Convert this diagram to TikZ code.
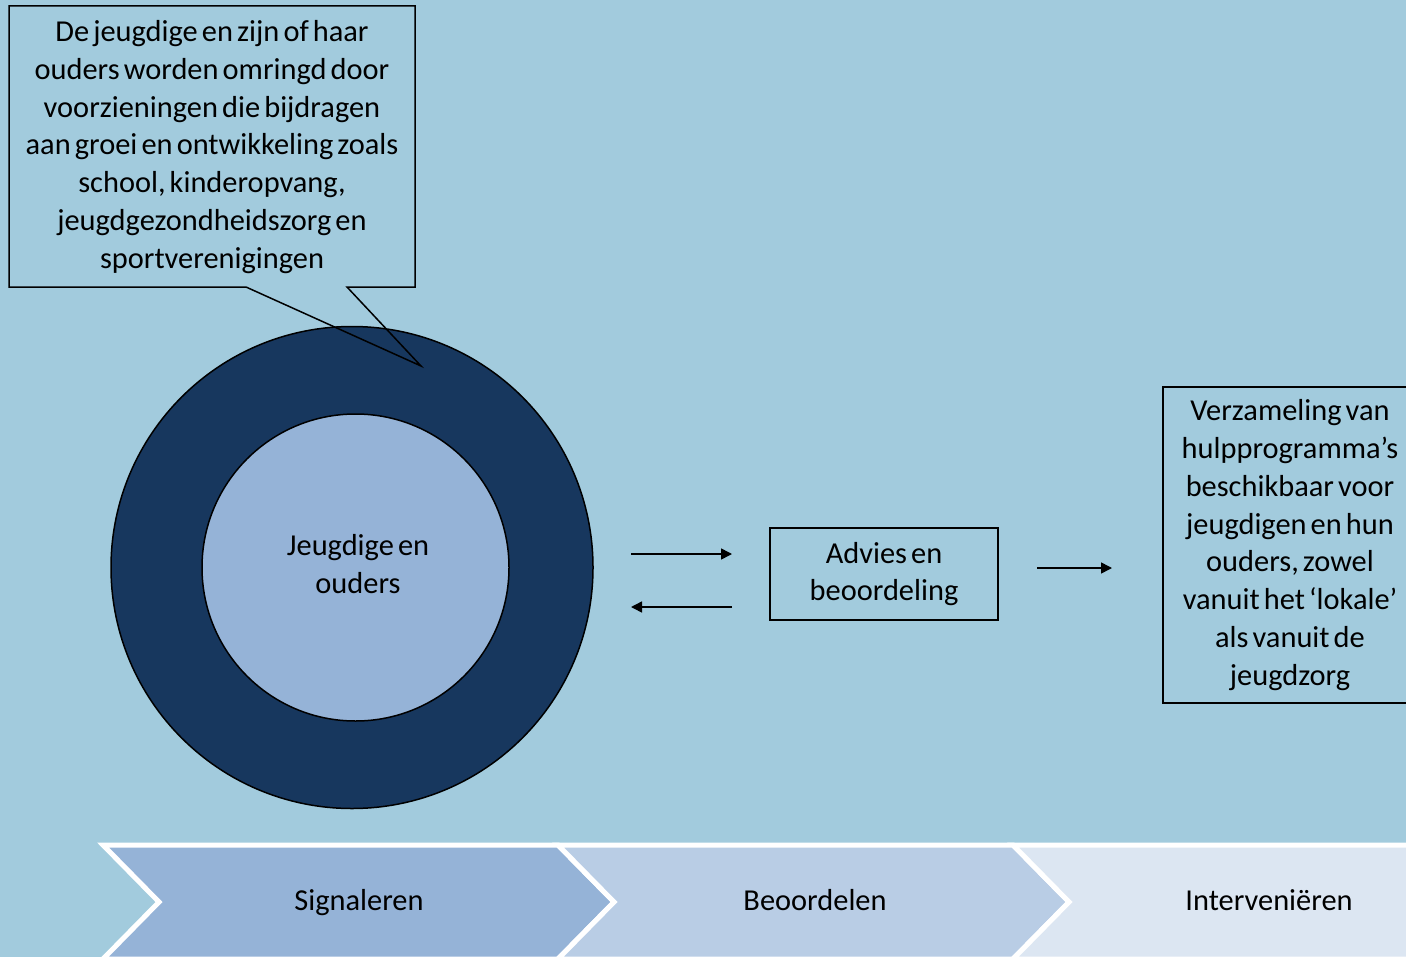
\documentclass[tikz,border=0pt]{standalone}
\usepackage{fontspec}
\setmainfont[WordSpace=0.6]{Carlito}
\usetikzlibrary{arrows.meta}
\definecolor{bg}{RGB}{162,203,221}
\definecolor{navy}{RGB}{23,55,94}
\definecolor{innerc}{RGB}{149,179,215}
\definecolor{chevA}{RGB}{149,179,215}
\definecolor{chevB}{RGB}{185,205,229}
\definecolor{chevC}{RGB}{220,230,242}
\begin{document}
\begin{tikzpicture}[x=0.5pt,y=-0.5pt,
  txt/.style={font=\fontsize{15.2}{18.9}\selectfont, align=center, text=black, inner sep=0pt},
  boxline/.style={draw=black, line width=0.75pt},
  flow/.style={draw=black, line width=0.75pt, -{Triangle[length=5.5pt,width=5.5pt]}},
  chev/.style={draw=white, line width=2.5pt, line join=miter}]
\clip (0,0) rectangle (1406,957);
\fill[bg] (0,0) rectangle (1406,957);
% circles
\node[circle, boxline, fill=navy, minimum size=241pt, inner sep=0pt] (outer) at (352,567.5) {};
\node[circle, boxline, fill=innerc, minimum size=153.5pt, inner sep=0pt] (inner) at (355.5,567.5) {};
\node[txt] (jo) at (358,564) {Jeugdige en\\ouders};
% callout
\draw[boxline, line join=miter] (9,6) -- (415,6) -- (415,287) -- (347,287) -- (421,366) -- (246,287) -- (9,287) -- cycle;
\node[txt] (callout) at (212,147) {De jeugdige en zijn of haar\\ouders worden omringd door\\voorzieningen die bijdragen\\aan groei en ontwikkeling zoals\\school, kinderopvang,\\jeugdgezondheidszorg en\\sportverenigingen};
% advies box
\node[txt, boxline, minimum width=114pt, minimum height=46pt] (advies) at (884,574) {Advies en\\beoordeling};
% verzameling box
\node[txt, boxline, minimum width=127pt, minimum height=158pt] (verz) at (1290,545) {Verzameling van\\hulpprogramma’s\\beschikbaar voor\\jeugdigen en hun\\ouders, zowel\\vanuit het ‘lokale’\\als vanuit de\\jeugdzorg};
% arrows
\coordinate (a1s) at (631,554); \coordinate (a1e) at (732,554);
\coordinate (a2s) at (732,607); \coordinate (a2e) at (631,607);
\coordinate (a3s) at (1037,568); \coordinate (a3e) at (1112,568);
\draw[flow] (a1s) -- (a1e);
\draw[flow] (a2s) -- (a2e);
\draw[flow] (a3s) -- (a3e);
% chevrons
\foreach \x/\c in {103/chevA, 558/chevB, 1013/chevC}{
  \filldraw[chev, fill=\c] (\x,845) -- (\x+455,845) -- (\x+511,902) -- (\x+455,959) -- (\x,959) -- (\x+56,902) -- cycle;
}
\node[txt, anchor=base] (sig) at (359,910) {Signaleren};
\node[txt, anchor=base] (beo) at (815,910) {Beoordelen};
\node[txt, anchor=base] (int) at (1269,910) {Interveniëren};
\end{tikzpicture}
\end{document}
